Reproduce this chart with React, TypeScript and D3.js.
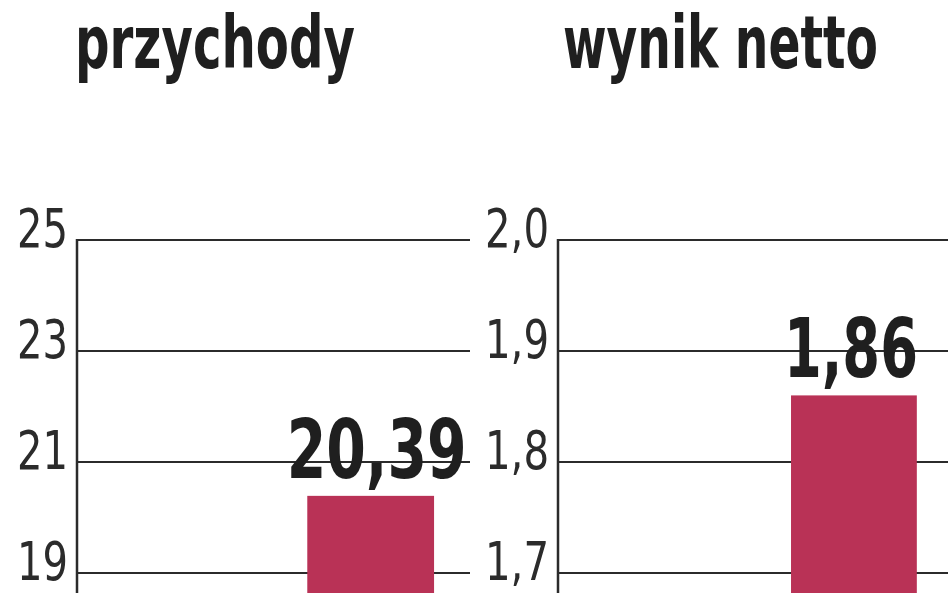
import React from "react";
import * as d3 from "d3";

const titles = ["przychody", "wynik netto"];
const values = [20.39, 1.86];
const leftTicks = [19, 21, 23, 25];
const rightTicks = [1.7, 1.8, 1.9, 2.0];
const leftDomain = [19, 25];
const rightDomain = [1.7, 2.0];

const W = 948;
const H = 593;
const FONT = "'DejaVu Sans Condensed', 'DejaVu Sans', sans-serif";
const BAR = "#b93256";
const INK = "#1f1f1f";

const pl = d3.formatLocale({ decimal: ",", thousands: " ", grouping: [3], currency: ["", " zł"] });
const fmt0 = pl.format("d");
const fmt1 = pl.format(".1f");
const fmt2 = pl.format(".2f");

const labelLen = (s: string) => s.split("").reduce((a, c) => a + (c === "," ? 13 : 25.5), 0);

type PanelProps = {
  title: string;
  value: number;
  ticks: number[];
  domain: number[];
  x0: number;
  x1: number;
  align: number;
  labelDx: number;
  tickFmt: (n: number) => string;
  titleX: number;
  titleLen: number;
  valueLen: number;
};

function Panel(p: PanelProps) {
  const y = d3.scaleLinear().domain(p.domain).range([573, 240]);
  const x = d3.scaleBand<string>().domain([p.title]).range([p.x0, p.x1]).paddingInner(0).paddingOuter(1.05).align(p.align);
  const bx = x(p.title) as number;
  const bw = x.bandwidth();
  return (
    <g>
      <text x={p.titleX} y={68} fontFamily={FONT} fontWeight={700} fontSize={73} fill={INK}
        textLength={p.titleLen} lengthAdjust="spacingAndGlyphs">{p.title}</text>
      {p.ticks.map((t) => {
        const s = p.tickFmt(t);
        const len = labelLen(s);
        return (
          <g key={t}>
            <line x1={p.x0} x2={p.x1} y1={y(t)} y2={y(t)} stroke="#2b2b2b" strokeWidth={2} />
            <text x={p.x0 - 9 - len} y={y(t) + 7} fontFamily={FONT} fontWeight={400}
              fontSize={54} fill="#2b2b2b" textLength={len} lengthAdjust="spacingAndGlyphs">{s}</text>
          </g>
        );
      })}
      <line x1={p.x0} x2={p.x0} y1={y(p.domain[1]) - 1} y2={H} stroke="#2b2b2b" strokeWidth={2.5} />
      <rect x={bx} y={y(p.value)} width={bw} height={H - y(p.value)} fill={BAR} />
      <text x={bx + bw / 2 + p.labelDx} y={y(p.value) - 18} textAnchor="middle" fontFamily={FONT} fontWeight={700}
        fontSize={82} fill={INK} textLength={p.valueLen} lengthAdjust="spacingAndGlyphs">{fmt2(p.value)}</text>
    </g>
  );
}

export default function App() {
  return (
    <div style={{ position: "absolute", left: 0, top: 0 }}>
      <svg width={W} height={H} viewBox={`0 0 ${W} ${H}`} style={{ display: "block", background: "#fff" }}>
        <rect width={W} height={H} fill="#fff" />
        <Panel title={titles[0]} value={values[0]} ticks={leftTicks} domain={leftDomain} x0={77} x1={470} align={0.865}
          labelDx={6} tickFmt={(n) => fmt0(n)} titleX={75} titleLen={280} valueLen={180} />
        <Panel title={titles[1]} value={values[1]} ticks={rightTicks} domain={rightDomain} x0={558} x1={948} align={0.882}
          labelDx={-3} tickFmt={(n) => fmt1(n)} titleX={563} titleLen={315} valueLen={134} />
      </svg>
    </div>
  );
}
